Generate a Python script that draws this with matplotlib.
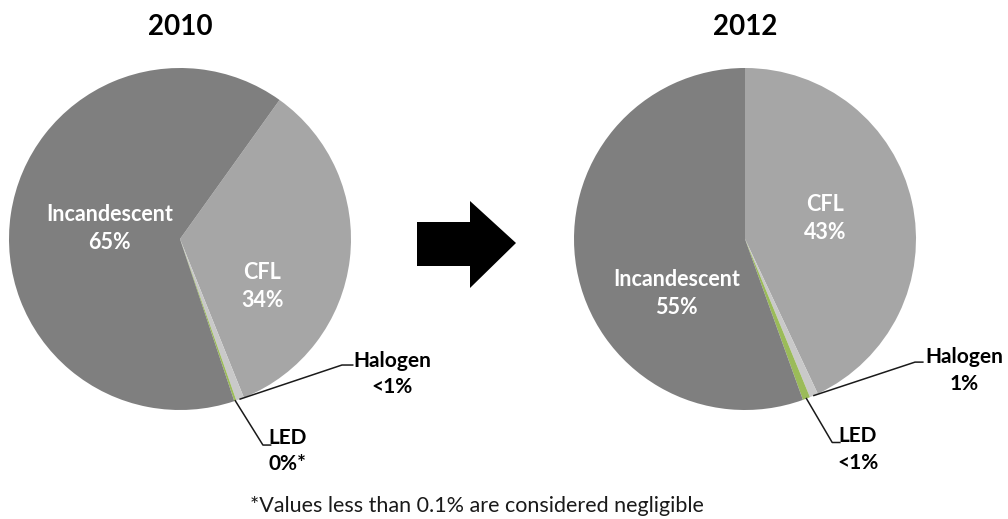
import matplotlib.pyplot as plt
from matplotlib.patches import Polygon
import numpy as np

# data
years = ['2010', '2012']
categories = ['CFL', 'Halogen', 'LED', 'Incandescent']
shares_2010 = [34.0, 0.75, 0.2, 65.0]
shares_2012 = [43.0, 0.8, 0.7, 55.5]
labels_2010 = ['34%', '<1%', '0%*', '65%']
labels_2012 = ['43%', '1%', '<1%', '55%']
footnote = '*Values less than 0.1% are considered negligible'

colors = ['#a6a6a6', '#c9c9c9', '#9bbb59', '#7f7f7f']
start_angles = [54.4, 90]

# label placement (data units, pie radius = 1)
inner_pos = [
    {'Incandescent': (-0.41, 0.06), 'CFL': (0.48, -0.28)},
    {'Incandescent': (-0.40, -0.32), 'CFL': (0.47, 0.12)},
]
outer_pos = [
    {'Halogen': ((0.947, -0.737), 1.01, (1.24, -0.79)),
     'LED': ((0.485, -1.205), 0.53, (0.63, -1.24))},
    {'Halogen': ((0.994, -0.72), 1.04, (1.28, -0.77)),
     'LED': ((0.51, -1.19), 0.555, (0.66, -1.23))},
]

W, H = 1008, 519
fig = plt.figure(figsize=(W / 100, H / 100), dpi=100)
plt.rcParams['font.family'] = ['Lato', 'DejaVu Sans']

centers = [(180, 239), (745, 239)]
r = 171

all_shares = [shares_2010, shares_2012]
all_labels = [labels_2010, labels_2012]

for i in range(2):
    cx, cy = centers[i]
    ax = fig.add_axes([(cx - r) / W, (H - cy - r) / H, 2 * r / W, 2 * r / H])
    wedges, _ = ax.pie(all_shares[i], colors=colors, startangle=start_angles[i],
                       counterclock=False, radius=1,
                       wedgeprops=dict(linewidth=0))
    ax.set_xlim(-1, 1)
    ax.set_ylim(-1, 1)
    ax.set_aspect('equal')
    ax.axis('off')
    ax.set_title(years[i], fontsize=20, fontweight='bold', pad=24)

    for j, cat in enumerate(categories):
        txt = cat + '\n' + all_labels[i][j]
        if cat in inner_pos[i]:
            x, y = inner_pos[i][cat]
            ax.text(x, y, txt, color='white', fontsize=15.5, fontweight='bold',
                    ha='center', va='center', linespacing=1.4)
        else:
            w = wedges[j]
            mid = np.deg2rad((w.theta1 + w.theta2) / 2)
            elbow, xend, tpos = outer_pos[i][cat]
            ax.plot([np.cos(mid), elbow[0], xend], [np.sin(mid), elbow[1], elbow[1]],
                    color='#1a1a1a', lw=1.1, clip_on=False)
            ax.text(tpos[0], tpos[1], txt, color='black', fontsize=15,
                    fontweight='bold', ha='center', va='center', linespacing=1.4,
                    clip_on=False)

# block arrow between the pies
arrow_px = [(417, 222), (470, 222), (470, 201), (516, 243), (470, 288),
            (470, 266), (417, 266)]
fig.patches.append(Polygon([(x / W, 1 - y / H) for x, y in arrow_px], closed=True,
                           facecolor='black', edgecolor='none',
                           transform=fig.transFigure))

fig.text(477 / W, 1 - 506 / H, footnote, fontsize=15.5, ha='center', va='center',
         color='#1a1a1a')

fig.savefig('out.png', dpi=100)
